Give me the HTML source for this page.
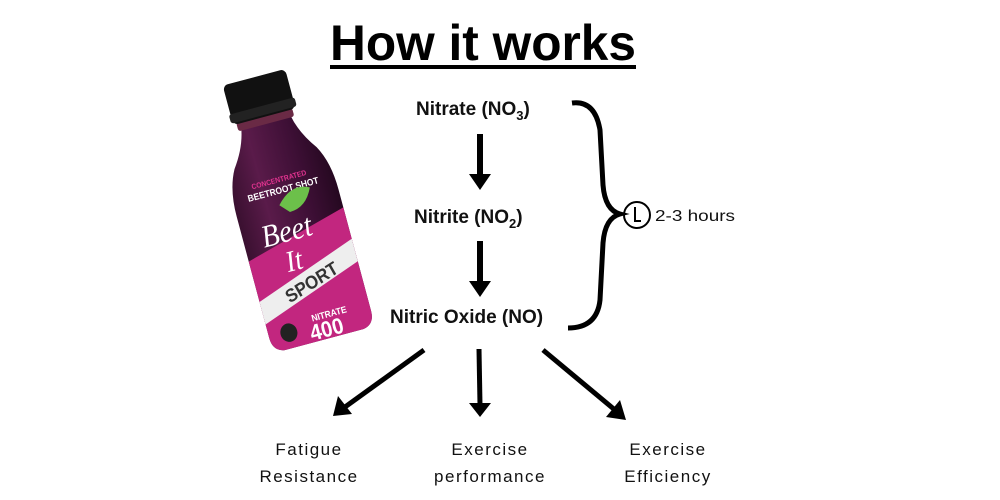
<!DOCTYPE html>
<html><head><meta charset="utf-8"><style>
html,body{margin:0;padding:0;background:#fff;width:1000px;height:500px;overflow:hidden}
</style></head><body>
<svg width="1000" height="500" viewBox="0 0 1000 500" xmlns="http://www.w3.org/2000/svg" font-family="Liberation Sans, DejaVu Sans, sans-serif">
<rect width="1000" height="500" fill="#fff"/>
<text x="330" y="60" font-size="50" font-weight="bold" textLength="306" lengthAdjust="spacingAndGlyphs">How it works</text>
<rect x="330" y="65" width="306" height="4" fill="#000"/>

<!-- bottle -->
<g transform="translate(290,212) rotate(-15) scale(0.85,0.93)">
  <defs>
    <linearGradient id="bg" x1="0" y1="0" x2="1" y2="0">
      <stop offset="0" stop-color="#3a1030"/><stop offset="0.3" stop-color="#5a1b4a"/><stop offset="0.7" stop-color="#3d0f35"/><stop offset="1" stop-color="#250820"/>
    </linearGradient>
  </defs>
  <path d="M-30,-100 L30,-100 Q34,-80 50,-60 Q62,-40 62,-10 L62,125 Q62,140 48,142 L-48,142 Q-62,140 -62,125 L-62,-10 Q-62,-40 -50,-60 Q-34,-80 -30,-100Z" fill="url(#bg)"/>
  <path d="M-62,40 L62,10 L62,125 Q62,140 48,142 L-48,142 Q-62,140 -62,125Z" fill="#c2267f"/>
  <path d="M-62,85 L62,45 L62,70 L-62,110Z" fill="#eee"/>
  <rect x="-34" y="-108" width="68" height="10" rx="3" fill="#6a2a45"/>
  <rect x="-38" y="-150" width="76" height="44" rx="6" fill="#111"/>
  <rect x="-40" y="-118" width="80" height="10" rx="3" fill="#222"/>
  <text x="-36" y="-34" font-size="8" fill="#e0338f" font-weight="bold">CONCENTRATED</text>
  <text x="-44" y="-22" font-size="10" fill="#fff" font-weight="bold">BEETROOT SHOT</text>
  <path d="M-10,-10 Q10,-30 30,-20 Q20,0 0,0Z" fill="#6cc04a"/>
  <text x="-40" y="30" font-size="34" fill="#fff" font-style="italic" font-family="Liberation Serif, serif">Beet</text>
  <text x="-20" y="62" font-size="32" fill="#fff" font-style="italic" font-family="Liberation Serif, serif">It</text>
  <text x="-28" y="95" font-size="20" fill="#333" font-weight="bold" transform="rotate(-16 -28 95)">SPORT</text>
  <text x="-8" y="120" font-size="10" fill="#fff" font-weight="bold">NITRATE</text>
  <text x="-14" y="140" font-size="24" fill="#fff" font-weight="bold">400</text>
  <circle cx="-38" cy="125" r="10" fill="#222"/>
</g>

<g font-weight="bold" font-size="19" fill="#111">
  <text x="416" y="115">Nitrate (NO<tspan font-size="13" dy="5">3</tspan><tspan dy="-5">)</tspan></text>
  <text x="414" y="223">Nitrite (NO<tspan font-size="13" dy="5">2</tspan><tspan dy="-5">)</tspan></text>
  <text x="390" y="323">Nitric Oxide (NO)</text>
</g>

<!-- vertical arrows -->
<g fill="#000">
  <rect x="477" y="134" width="6" height="44"/><path d="M469,174 L491,174 L480,190Z"/>
  <rect x="477" y="241" width="6" height="44"/><path d="M469,281 L491,281 L480,297Z"/>
</g>

<!-- brace -->
<path d="M572,103 Q595,100 600,130 L603,185 Q605,210 620,214 Q605,218 603,243 L600,300 Q597,328 568,328" fill="none" stroke="#000" stroke-width="5"/>
<circle cx="637" cy="215" r="13" fill="none" stroke="#000" stroke-width="2"/>
<path d="M635,207 L635,221 L641,221" fill="none" stroke="#000" stroke-width="2"/>
<text x="655" y="221" font-size="16" fill="#111" textLength="80" lengthAdjust="spacingAndGlyphs">2-3 hours</text>

<!-- bottom arrows -->
<g stroke="#000" stroke-width="5" fill="none">
  <line x1="424" y1="350" x2="345" y2="407"/>
  <line x1="479" y1="349" x2="480" y2="405"/>
  <line x1="543" y1="350" x2="615" y2="410"/>
</g>
<g fill="#000">
  <path d="M333,416 L338,396 L352,414Z"/>
  <path d="M469,403 L491,403 L480,417Z"/>
  <path d="M626,420 L606,417 L620,400Z"/>
</g>

<g font-size="17" fill="#111" text-anchor="middle" letter-spacing="1.5">
  <text x="309" y="455">Fatigue</text>
  <text x="309" y="482">Resistance</text>
  <text x="490" y="455">Exercise</text>
  <text x="490" y="482">performance</text>
  <text x="668" y="455">Exercise</text>
  <text x="668" y="482">Efficiency</text>
</g>
</svg>
</body></html>
